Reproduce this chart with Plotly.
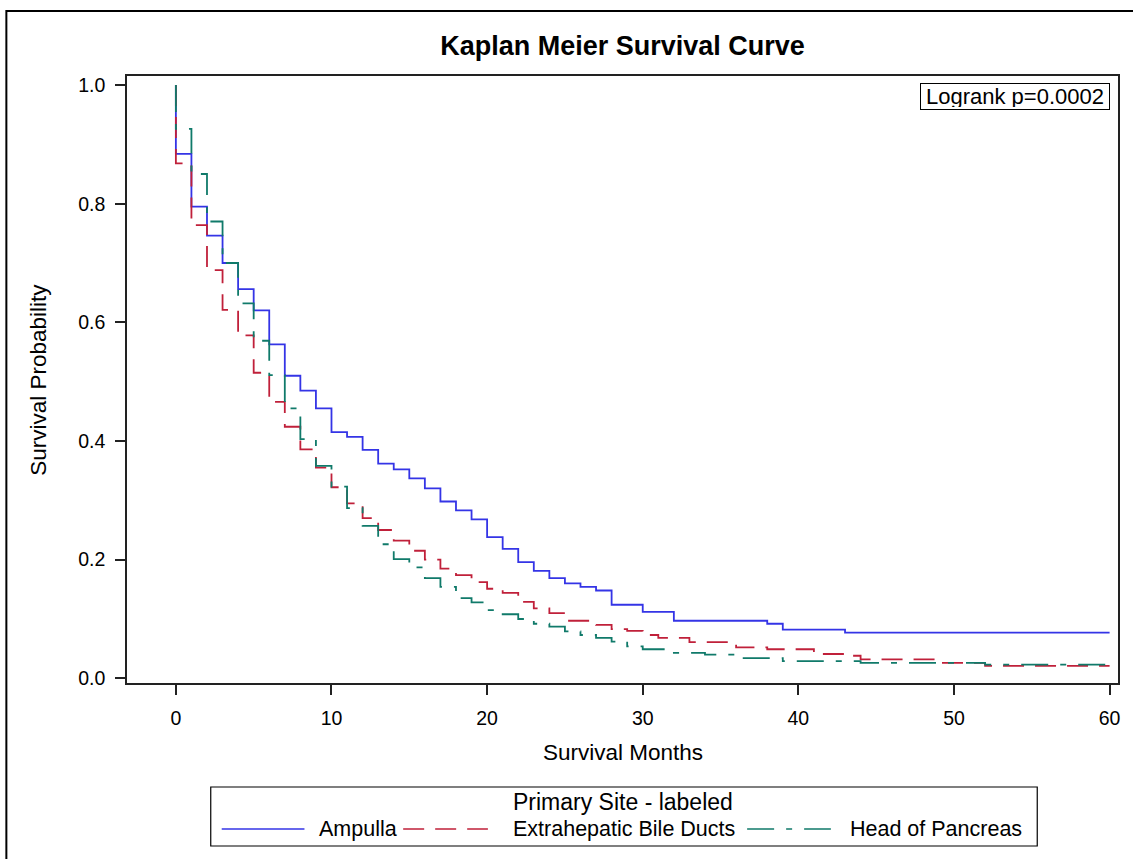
import plotly.graph_objects as go

# ---------------- data ----------------
amp_months = [0, 1, 2, 3, 4, 5, 6, 7, 8, 9, 10, 11, 12, 13, 14, 15, 16, 17, 18, 19,
              20, 21, 22, 23, 24, 25, 26, 27, 28, 30, 32, 38, 39, 43, 60]
amp_surv = [0.884, 0.795, 0.746, 0.700, 0.656, 0.620, 0.563, 0.510, 0.485, 0.455,
            0.415, 0.407, 0.385, 0.362, 0.352, 0.337, 0.320, 0.298, 0.283, 0.268,
            0.238, 0.218, 0.196, 0.181, 0.169, 0.160, 0.154, 0.148, 0.124, 0.112,
            0.097, 0.092, 0.082, 0.077, 0.077]

ebd_months = [0, 1, 2, 3, 4, 5, 6, 7, 8, 9, 10, 11, 12, 13, 14, 15, 16, 17, 18, 19,
              20, 21, 22, 23, 24, 25, 27, 28, 29, 30, 31, 33, 36, 38, 41, 43, 44, 49, 52, 60]
ebd_surv = [0.868, 0.764, 0.688, 0.621, 0.578, 0.515, 0.466, 0.424, 0.386, 0.355,
            0.322, 0.295, 0.270, 0.250, 0.232, 0.215, 0.200, 0.185, 0.174, 0.162,
            0.151, 0.144, 0.129, 0.118, 0.110, 0.097, 0.090, 0.083, 0.080, 0.073,
            0.068, 0.061, 0.052, 0.049, 0.041, 0.038, 0.032, 0.026, 0.021, 0.021]

hop_months = [0, 1, 2, 3, 4, 5, 6, 7, 8, 9, 10, 11, 12, 13, 14, 15, 16, 17, 18, 19,
              20, 21, 22, 23, 24, 25, 26, 27, 28, 29, 30, 32, 34, 36, 39, 44, 52, 60]
hop_surv = [0.926, 0.850, 0.770, 0.700, 0.632, 0.569, 0.511, 0.455, 0.403, 0.358,
            0.323, 0.287, 0.257, 0.226, 0.201, 0.187, 0.169, 0.154, 0.135, 0.128,
            0.115, 0.108, 0.100, 0.092, 0.087, 0.079, 0.073, 0.068, 0.062, 0.054,
            0.049, 0.043, 0.040, 0.034, 0.029, 0.026, 0.023, 0.023]

series_names = ["Ampulla", "Extrahepatic Bile Ducts", "Head of Pancreas"]
series_months = [amp_months, ebd_months, hop_months]
series_surv = [amp_surv, ebd_surv, hop_surv]

x_ticks = [0, 10, 20, 30, 40, 50, 60]
y_ticks = [0.0, 0.2, 0.4, 0.6, 0.8, 1.0]

title_text = "Kaplan Meier Survival Curve"
x_title = "Survival Months"
y_title = "Survival Probability"
legend_title = "Primary Site - labeled"
logrank_text = "Logrank p=0.0002"

# ---------------- styles ----------------
colors = ["#3434E6", "#C0203A", "#107A6A"]
dashes = ["solid", "21px,11px", "27px,12px,6px,12px"]
FONT = "Liberation Sans, Arial, sans-serif"

W, H = 1133, 859
L, R, T, B = 127, 1121, 76, 683  # plot area in px


def px_x(px):
    return (px - L) / (R - L)


def px_y(py):
    return (B - py) / (B - T)


fig = go.Figure()
for name, months, surv, col, dsh in zip(series_names, series_months, series_surv, colors, dashes):
    xs = [0] + list(months)
    ys = [1.0] + list(surv)
    fig.add_trace(go.Scatter(
        x=xs, y=ys, mode="lines", name=name, line_shape="hv",
        line=dict(color=col, width=1.8, dash=dsh), showlegend=False,
    ))

fig.update_layout(
    width=W, height=H,
    margin=dict(l=L, r=W - R, t=T, b=H - B),
    paper_bgcolor="white", plot_bgcolor="white",
    font=dict(family=FONT, color="black", size=19),
    title=dict(text="<b>" + title_text + "</b>", x=0.5, xref="paper",
               y=1 - 46 / H, yanchor="middle", xanchor="center",
               font=dict(family=FONT, size=27, color="black")),
    showlegend=False,
)

fig.update_xaxes(
    range=[-3.14, 60.54], tickvals=x_ticks, ticktext=[str(v) for v in x_ticks],
    showgrid=False, zeroline=False, showline=True, mirror=True,
    linecolor="#222222", linewidth=1.5, ticks="outside", ticklen=10,
    tickwidth=1.5, tickcolor="#222222", ticklabelstandoff=7,
    tickfont=dict(size=19.5, family=FONT, color="black"),
)
fig.update_yaxes(
    range=[-0.0079, 1.0152], tickvals=y_ticks, ticktext=["%.1f" % v for v in y_ticks],
    showgrid=False, zeroline=False, showline=True, mirror=True,
    linecolor="#222222", linewidth=1.5, ticks="outside", ticklen=10,
    tickwidth=1.5, tickcolor="#222222", ticklabelstandoff=6,
    tickfont=dict(size=19.5, family=FONT, color="black"),
)

shapes = []
annotations = []

# outer frame
shapes.append(dict(type="rect", xref="paper", yref="paper",
                   x0=px_x(6), x1=px_x(1160), y0=px_y(900), y1=px_y(11),
                   line=dict(color="black", width=2), fillcolor="rgba(0,0,0,0)"))

# axis titles
annotations.append(dict(text=x_title, xref="paper", yref="paper", x=0.5, y=px_y(752),
                        xanchor="center", yanchor="middle", showarrow=False,
                        font=dict(size=22.5, family=FONT, color="black")))
annotations.append(dict(text=y_title, xref="paper", yref="paper", x=px_x(38), y=0.5,
                        xanchor="center", yanchor="middle", showarrow=False, textangle=-90,
                        font=dict(size=22.5, family=FONT, color="black")))

# logrank box
annotations.append(dict(text=logrank_text, xref="paper", yref="paper",
                        x=px_x(1017.5), y=px_y(96.5), xanchor="center", yanchor="middle",
                        width=184, height=21, align="center",
                        showarrow=False, bordercolor="black", borderwidth=1, borderpad=2,
                        bgcolor="white", font=dict(size=22, family=FONT, color="black")))

# legend box
shapes.append(dict(type="rect", xref="paper", yref="paper",
                   x0=px_x(211), x1=px_x(1040), y0=px_y(846), y1=px_y(787),
                   line=dict(color="black", width=1.2), fillcolor="white"))
annotations.append(dict(text=legend_title, xref="paper", yref="paper",
                        x=px_x(624), y=px_y(802), xanchor="center", yanchor="middle",
                        showarrow=False, font=dict(size=23, family=FONT, color="black")))
item_line_px = [(222, 305), (404, 489), (749, 833)]
item_text_px = [318, 512, 850]
for name, col, dsh, (a, b), tx in zip(series_names, colors, dashes, item_line_px, item_text_px):
    shapes.append(dict(type="line", xref="paper", yref="paper",
                       x0=px_x(a), x1=px_x(b), y0=px_y(829), y1=px_y(829),
                       line=dict(color=col, width=1.5, dash=dsh)))
    annotations.append(dict(text=name, xref="paper", yref="paper",
                            x=px_x(tx), y=px_y(829), xanchor="left", yanchor="middle",
                            showarrow=False, font=dict(size=21.5, family=FONT, color="black")))

fig.update_layout(shapes=shapes, annotations=annotations)
fig.write_html("out.html", config={"displayModeBar": False},
               post_script="document.body.style.margin='0';document.body.style.padding='0';")
